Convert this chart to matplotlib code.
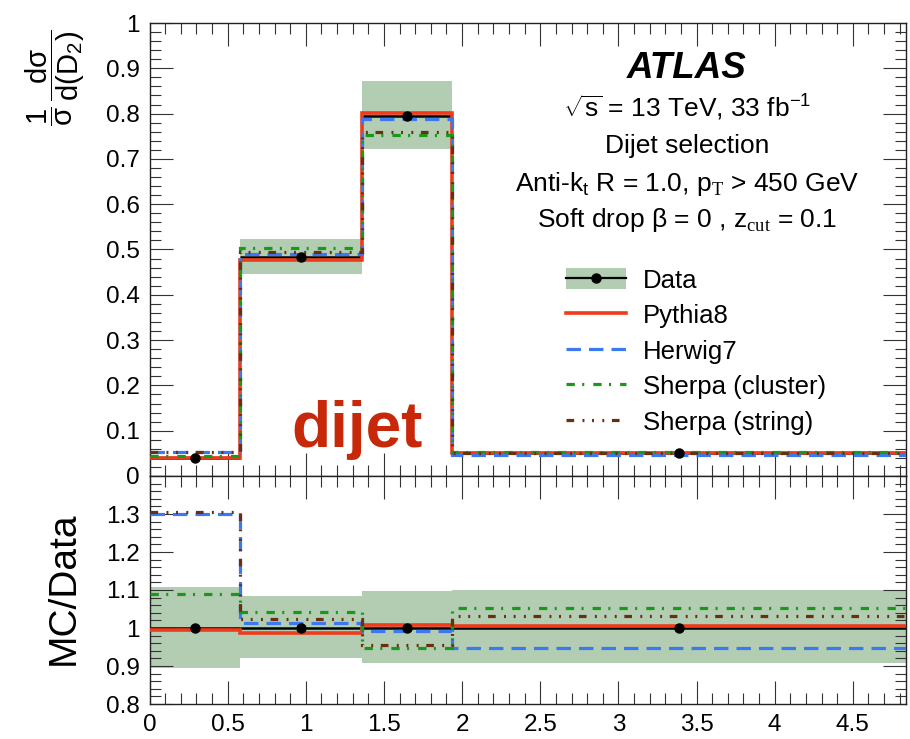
import matplotlib
matplotlib.use('Agg')
import matplotlib.pyplot as plt
from matplotlib.patches import Patch
from matplotlib.lines import Line2D
from matplotlib.ticker import MultipleLocator, FuncFormatter
import numpy as np

plt.rcParams['font.family'] = ['Liberation Sans', 'DejaVu Sans']
plt.rcParams['mathtext.fontset'] = 'custom'
plt.rcParams['mathtext.rm'] = 'Liberation Sans'
plt.rcParams['mathtext.it'] = 'Liberation Sans:italic'
plt.rcParams['mathtext.bf'] = 'Liberation Sans:bold'
plt.rcParams['mathtext.cal'] = 'Liberation Serif'
plt.rcParams['mathtext.default'] = 'regular'
plt.rcParams['lines.scale_dashes'] = False

# D2 binning and unfolded data
edges = [0.0, 0.58, 1.357, 1.936, 4.84]
data = [0.040, 0.484, 0.795, 0.050]
unc_up = [0.107, 0.083, 0.097, 0.099]
unc_dn = [0.104, 0.078, 0.091, 0.092]

# MC / Data ratios
ratio_pythia = [0.996, 0.987, 1.008, 1.006]
ratio_herwig = [1.300, 1.012, 0.991, 0.947]
ratio_sherpa_cluster = [1.089, 1.041, 0.948, 1.053]
ratio_sherpa_string = [1.304, 1.023, 0.956, 1.032]

labels = ['Pythia8', 'Herwig7', 'Sherpa (cluster)', 'Sherpa (string)']

band_col = '#b3cdb3'
styles = [
    dict(color='#ee3b1c', lw=2.6, ls='-'),
    dict(color='#3c78f0', lw=2.3, ls=(0, (10.4, 5.8))),
    dict(color='#189a18', lw=2.3, ls=(0, (6, 5.3, 1.5, 6.5))),
    dict(color='#6a2f0c', lw=2.3, ls=(0, (5.5, 6, 1.4, 5.5, 1.4, 6, 1.4, 5.5))),
]

edges = np.array(edges)
data = np.array(data)
centers = 0.5 * (edges[:-1] + edges[1:])
ratios = [np.array(r) for r in (ratio_pythia, ratio_herwig,
                                 ratio_sherpa_cluster, ratio_sherpa_string)]

W, H = 910, 739
fig = plt.figure(figsize=(W / 100, H / 100), dpi=100)


def add_axes_px(left, top, right, bottom):
    return fig.add_axes([left / W, 1 - bottom / H, (right - left) / W, (bottom - top) / H])


ax = add_axes_px(149.5, 23, 906, 476)
rax = add_axes_px(149.5, 476, 906, 704)

# upper panel: distribution
ax.stairs(data * (1 + np.array(unc_up)), edges, baseline=data * (1 - np.array(unc_dn)),
          fill=True, color=band_col, lw=0, zorder=1)
ax.hlines(data, edges[:-1], edges[1:], color='black', lw=1.8, zorder=2)
for r, st in zip(ratios, styles):
    ax.stairs(data * r, edges, baseline=None, zorder=3, **st)
ax.plot(centers, data, 'o', color='black', ms=6.5, zorder=6)

# lower panel: ratio
rax.stairs(1 + np.array(unc_up), edges, baseline=1 - np.array(unc_dn),
           fill=True, color=band_col, lw=0, zorder=1)
rax.hlines(np.ones_like(data), edges[:-1], edges[1:], color='black', lw=1.8, zorder=2)
for r, st in zip(ratios, styles):
    rax.stairs(r, edges, baseline=None, zorder=3, **st)
rax.plot(centers, np.ones_like(data), 'o', color='black', ms=6.5, zorder=6)

ax.set_xlim(0, edges[-1])
ax.set_ylim(0, 1)
rax.set_xlim(0, edges[-1])
rax.set_ylim(0.8, 1.4)

fmt = FuncFormatter(lambda v, p: '%g' % round(v, 3))
for a in (ax, rax):
    a.xaxis.set_major_locator(MultipleLocator(0.5))
    a.xaxis.set_minor_locator(MultipleLocator(0.1))
    a.yaxis.set_major_locator(MultipleLocator(0.1))
    a.yaxis.set_minor_locator(MultipleLocator(0.02))
    a.tick_params(which='both', direction='in', top=True, right=True,
                  color='#333333', width=0.8, labelsize=17.5)
    a.tick_params(which='major', length=16.5, pad=7)
    a.tick_params(which='minor', length=8)
    a.yaxis.set_major_formatter(fmt)
    a.xaxis.set_major_formatter(fmt)
    for sp in a.spines.values():
        sp.set_color('#222222')
        sp.set_linewidth(1.0)

ax.tick_params(labelbottom=False)
rax.set_yticks([0.8, 0.9, 1.0, 1.1, 1.2, 1.3])

fig.text(55 / W, 1 - 78 / H, r'$\dfrac{1}{\sigma}\,\dfrac{d\sigma}{d(D_2)}$',
         rotation=90, ha='center', va='center', fontsize=21)
fig.text(64 / W, 1 - 588 / H, 'MC/Data', rotation=90, ha='center', va='center',
         fontsize=28)

# labels
tx = 687 / W
fig.text(tx, 1 - 68 / H, 'ATLAS', ha='center', va='center', fontsize=26.5,
         fontweight='bold', fontstyle='italic')
fig.text(tx, 1 - 117 / H, r'$\sqrt{s}$ = 13 TeV, 33 fb$^{-1}$', ha='center',
         va='baseline', fontsize=19)
fig.text(tx, 1 - 153 / H, 'Dijet selection', ha='center', va='baseline', fontsize=19)
fig.text(tx, 1 - 191 / H, r'Anti-k$_{t}$ R = 1.0, p$_{\mathcal{T}}$ > 450 GeV',
         ha='center', va='baseline', fontsize=19)
fig.text(tx, 1 - 227 / H, r'Soft drop β = 0 , z$_{\mathcal{cut}}$ = 0.1',
         ha='center', va='baseline', fontsize=19)

ax.text(357 / W, 1 - 447 / H, 'dijet', transform=fig.transFigure, ha='center',
        va='baseline', fontsize=46, fontweight='bold', color='#c8280a')

handles = [(Patch(facecolor=band_col, edgecolor='none'),
            Line2D([], [], color='black', lw=1.6, marker='o', ms=6.5))]
for st in styles:
    handles.append(Line2D([], [], **st))
fig.legend(handles, ['Data'] + labels, loc='upper left',
           bbox_to_anchor=(566 / W, 1 - 268 / H), frameon=False, fontsize=18.5,
           borderpad=0, borderaxespad=0, handlelength=2.33, handletextpad=0.66,
           labelspacing=0.43, handleheight=0.9)

fig.savefig('out.png', dpi=100, facecolor='white')
